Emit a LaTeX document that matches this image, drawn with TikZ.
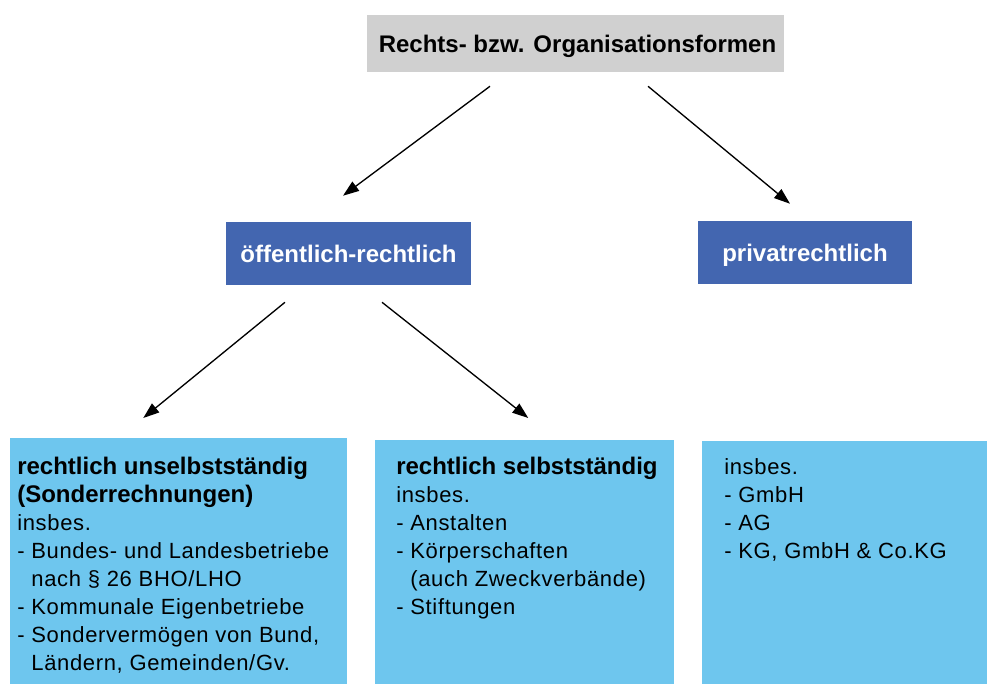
\documentclass[tikz,border=0pt]{standalone}
\usepackage{fontspec}
\setmainfont{Liberation Sans}
\usetikzlibrary{arrows.meta,positioning}
\definecolor{kopfgrau}{RGB}{208,208,208}
\definecolor{dunkelblau}{RGB}{67,102,176}
\definecolor{hellblau}{RGB}{110,198,238}
\newcommand{\fett}[1]{{\fontsize{18}{21}\selectfont\bfseries\addfontfeature{LetterSpace=0}#1}}

\begin{document}
\begin{tikzpicture}[x=0.75pt,y=-0.75pt,
	kopf/.style={fill=kopfgrau,minimum width=312.75pt,minimum height=42.75pt,inner sep=0pt,text height=13pt,text depth=0pt,font=\fontsize{18}{21}\selectfont\bfseries},
	zweig/.style={fill=dunkelblau,minimum height=47.25pt,inner sep=0pt,text height=13pt,text depth=0pt,text=white,font=\fontsize{18}{21}\selectfont\bfseries},
	feld/.style={fill=hellblau,minimum height=190pt,inner sep=0pt,anchor=north west},
	feldtext/.style={anchor=north west,inner sep=0pt,align=left,font=\fontsize{16.5}{21}\selectfont\addfontfeature{LetterSpace=3}},
	pfeil/.style={-{Triangle[length=12pt,width=8.5pt]},line width=1pt}]
	\useasboundingbox (0,0) rectangle (987,684);
	\node[kopf] (formen) at (575.5,43.5) {\hspace*{3pt}Rechts- bzw. Organisationsformen};
	\node[zweig,minimum width=183.75pt] (oeff) at (348.5,253.5) {öffentlich-rechtlich};
	\node[zweig,minimum width=160.5pt] (privat) at (805,252.5) {privatrechtlich};
	\node[feld,minimum width=252.75pt] (unselb) at (10,438) {};
	\node[feld,minimum width=224.25pt] (selb) at (375,440) {};
	\node[feld,minimum width=219.75pt] (gesell) at (702,441) {};
	\node[feldtext] (unselbtext) at (17,457) {\fett{rechtlich unselbstständig}\\
		\fett{(Sonderrechnungen)}\\
		insbes.\\
		- Bundes- und Landesbetriebe\\
		\hphantom{- }nach § 26 BHO/LHO\\
		- Kommunale Eigenbetriebe\\
		- Sondervermögen von Bund,\\
		\hphantom{- }Ländern, Gemeinden/Gv.};
	\node[feldtext] (selbtext) at (396,457) {\fett{rechtlich selbstständig}\\
		insbes.\\
		- Anstalten\\
		- Körperschaften\\
		\hphantom{- }(auch Zweckverbände)\\
		- Stiftungen};
	\node[feldtext] (geselltext) at (724,458) {insbes.\\
		- GmbH\\
		- AG\\
		- KG, GmbH \& Co.KG};
	\coordinate (a1) at ([shift={(-85.5,14)}]formen.south);
	\coordinate (a2) at ([shift={(72.5,14)}]formen.south);
	\coordinate (b1) at ([shift={(-5.5,-26)}]oeff.north);
	\coordinate (b2) at ([shift={(-15,-17)}]privat.north);
	\coordinate (c1) at ([shift={(-63.5,17)}]oeff.south);
	\coordinate (c2) at ([shift={(33.5,17)}]oeff.south);
	\coordinate (d1) at ([shift={(-35.5,-20)}]unselb.north);
	\coordinate (d2) at ([shift={(3.5,-22)}]selb.north);
	\draw[pfeil] (a1) -- (b1);
	\draw[pfeil] (a2) -- (b2);
	\draw[pfeil] (c1) -- (d1);
	\draw[pfeil] (c2) -- (d2);
\end{tikzpicture}
\end{document}
